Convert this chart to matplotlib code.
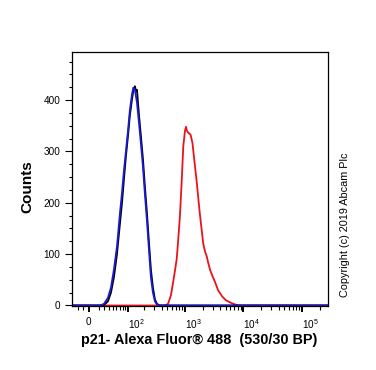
import numpy as np
import matplotlib
matplotlib.use("Agg")
import matplotlib.pyplot as plt

plt.rcParams['font.family'] = ['Liberation Sans', 'DejaVu Sans']
plt.rcParams['mathtext.default'] = 'regular'

# fluorescence (x) and counts
blue_x = [-32, 20.9, 29, 37.8, 45.1, 52.9, 61.6, 71, 78, 85, 92.8, 101.5, 110, 120,
          127, 136, 148, 161, 174, 189, 205, 222, 240, 260, 282, 305, 331, 373, 275000]
blue_y = [0, 0, 3, 15, 35, 70, 115, 180, 220, 262, 300, 340, 380, 410,
          424, 420, 395, 355, 315, 270, 215, 165, 110, 55, 25, 8, 2, 0, 0]

black_x = [-32, 20.9, 29, 37.8, 45.1, 52.9, 61.6, 71, 78, 85, 92.8, 101.5, 110, 120,
           127, 136, 142, 148, 161, 174, 189, 205, 222, 240, 260, 282, 305, 331, 373, 275000]
black_y = [0, 0, 1, 8, 25, 55, 100, 160, 200, 245, 290, 330, 370, 400,
           418, 427, 418, 420, 370, 330, 285, 230, 180, 125, 70, 35, 12, 3, 0, 0]

red_x = [-32, 454, 512, 576, 648, 722, 769, 821, 878, 936, 1001, 1041, 1082, 1149,
         1244, 1345, 1455, 1575, 1670, 1773, 1917, 2058, 2201, 2353, 2475, 2679,
         2956, 3262, 3669, 4297, 5027, 5886, 7169, 8730, 275000]
red_y = [0, 0, 3, 20, 55, 90, 130, 175, 240, 310, 340, 348, 340, 336,
         333, 316, 280, 245, 215, 185, 150, 120, 105, 96, 85, 70,
         57, 46, 30, 18, 10, 6, 2, 0, 0]

major_x = [0, 100, 1000, 10000, 100000]
major_lbl = ['0', '$10^2$', '$10^3$', '$10^4$', '$10^5$']
minor_x = [-20, -10] + [m * d for d in (10, 100, 1000, 10000) for m in range(2, 10)] + [200000]
xlo, xhi = -32, 275000

def fwd(x):
    return np.arcsinh(np.asarray(x) / 45.0)

def inv(y):
    return 45.0 * np.sinh(np.asarray(y))

fig = plt.figure(figsize=(3.76, 3.70), dpi=100)
ax = fig.add_axes([0.1907, 0.173, 0.6808, 0.687])
ax.set_xscale('function', functions=(fwd, inv))

ax.plot(red_x, red_y, color='#e8141c', lw=1.3)
ax.plot(black_x, black_y, color='black', lw=1.3)
ax.plot(blue_x, blue_y, color='#1a1ad6', lw=1.3)

ax.set_xlim(xlo, xhi)
ax.set_ylim(-1, 494)

ax.set_xticks(major_x)
ax.set_xticklabels(major_lbl)
ax.set_xticks(minor_x, minor=True)
for lbl, v in zip(ax.get_xticklabels(), major_x):
    lbl.set_ha('center' if v == 0 else 'left')

ax.set_yticks([0, 100, 200, 300, 400])
ax.set_yticks(np.arange(25, 500, 25), minor=True)

ax.tick_params(axis='both', which='both', direction='out', labelsize=7.2, color='black')
ax.tick_params(axis='x', which='major', length=4.5, width=1.4, pad=3.5)
ax.tick_params(axis='x', which='minor', length=3, width=0.8)
ax.tick_params(axis='y', which='major', length=4.7, width=0.8, pad=3.5)
ax.tick_params(axis='y', which='minor', length=2.4, width=0.8)
for s in ax.spines.values():
    s.set_linewidth(0.9)

ax.set_xlabel('p21- Alexa Fluor® 488  (530/30 BP)', fontsize=10.4, fontweight='bold')
ax.xaxis.label.set_va('center')
ax.xaxis.set_label_coords(0.497, -0.134)
ax.set_ylabel('Counts', fontsize=11, fontweight='bold')
ax.yaxis.label.set_va('center')
ax.yaxis.set_label_coords(-0.173, 0.468)

fig.text(0.9176, 0.392, 'Copyright (c) 2019 Abcam Plc', rotation=90,
         fontsize=7.8, ha='center', va='center')

fig.savefig('out.png', dpi=100)
